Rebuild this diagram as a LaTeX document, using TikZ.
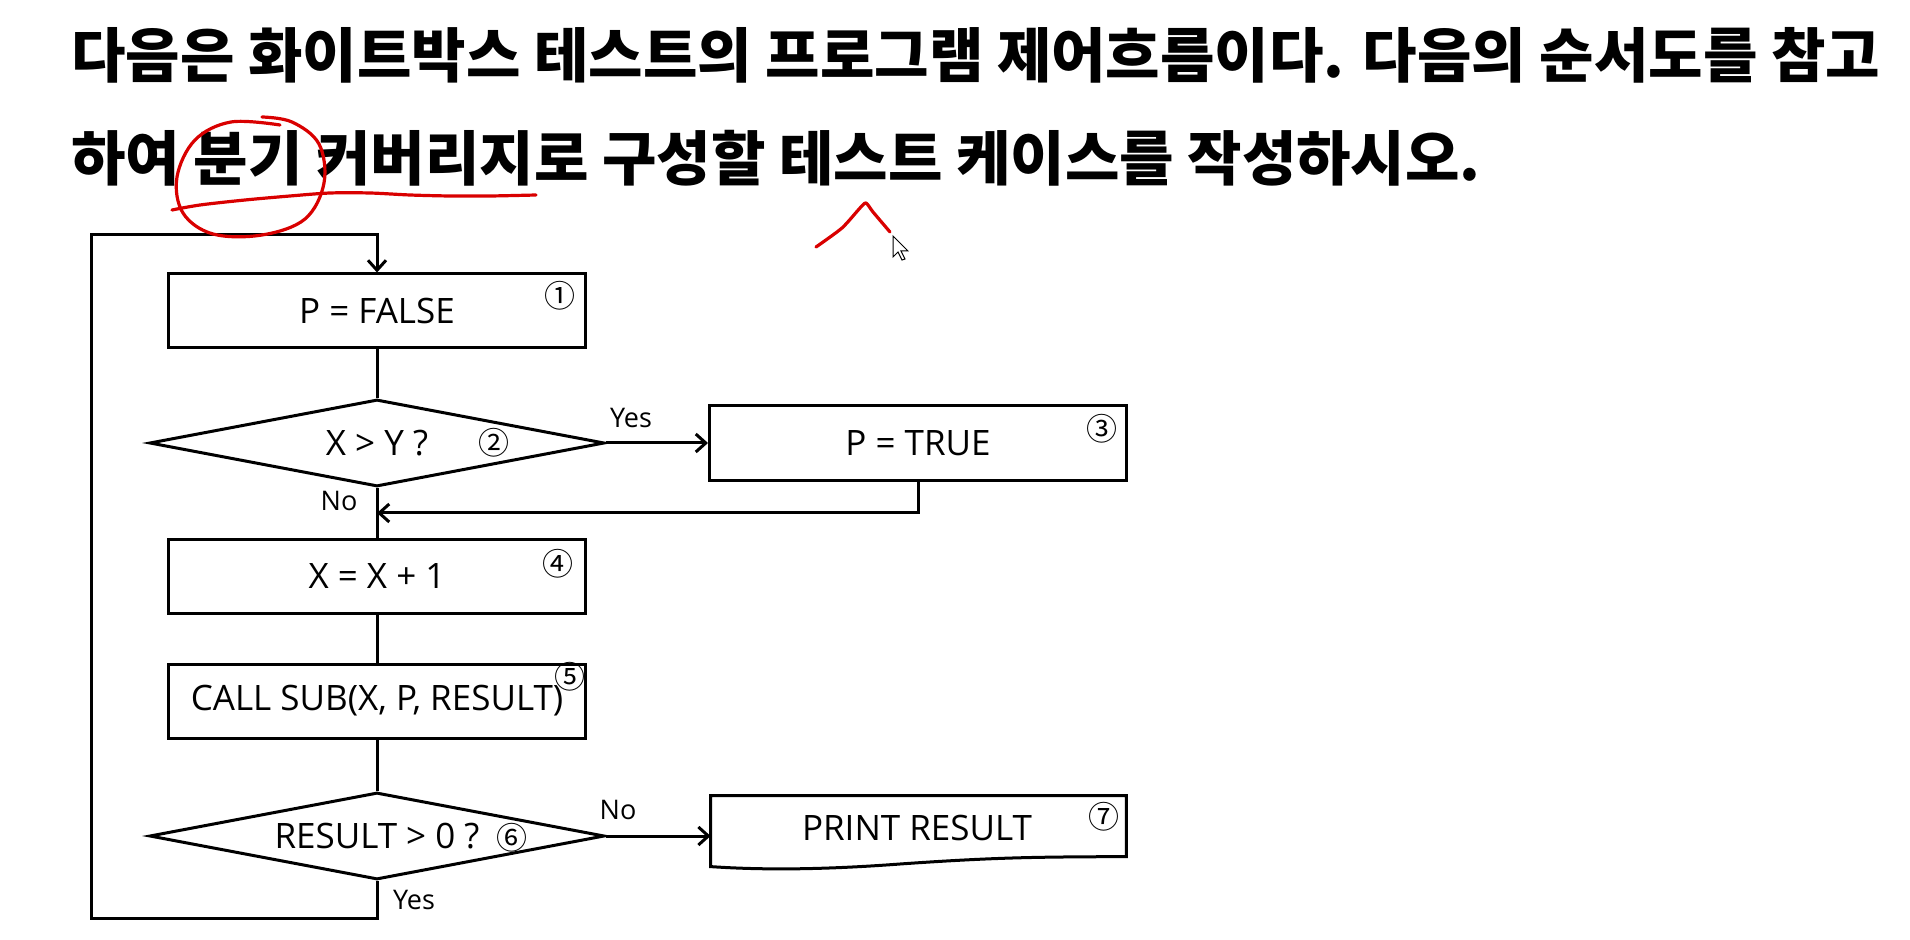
\documentclass[tikz,border=0pt]{standalone}
\usepackage{fontspec}
\usepackage{tikz}
\setmainfont{Open Sans}
\newfontfamily\krfont{Noto Sans CJK KR}
\usetikzlibrary{arrows.meta,positioning,shapes.geometric,calc}

\begin{document}
\begin{tikzpicture}[
    x=0.5pt, y=-0.5pt,
    title/.style={anchor=west, inner sep=0pt, font=\krfont\bfseries\fontsize{29.6}{34}\selectfont},
    procbox/.style={rectangle, draw, line width=1.5pt, minimum width=208.5pt, minimum height=37pt, inner sep=0pt, font=\fontsize{17.5}{20}\selectfont},
    decide/.style={diamond, draw, line width=1.5pt, aspect=5.2, minimum width=227.5pt, minimum height=43.5pt, inner sep=0pt, font=\fontsize{17.5}{20}\selectfont},
    num/.style={inner sep=0pt, font=\krfont\fontsize{15.5}{16}\selectfont},
    lbl/.style={inner sep=0pt, font=\fontsize{13.5}{15}\selectfont},
    flow/.style={line width=1.5pt},
    pen/.style={draw=red!85!black, line width=1.6pt, line cap=round, line join=round}
]
\useasboundingbox (0,0) rectangle (1910,940);
% question
\node[title] (line1) at (71,55) {다음은 화이트박스 테스트의 프로그램 제어흐름이다. 다음의 순서도를 참고};
\node[title] (line2) at (71,158) {하여 분기 커버리지로 구성할 테스트 케이스를 작성하시오.};
% flowchart
\node[procbox] (pfalse) at (377,311) {P = FALSE};
\node[decide] (cmp) at (377,443) {X > Y ?};
\node[procbox, minimum height=37.5pt] (ptrue) at (918,443) {P = TRUE};
\node[procbox] (inc) at (377,576) {X = X + 1};
\node[procbox] (call) at (377,701) {CALL SUB(X, P, RESULT)};
\node[decide] (res) at (377,836) {RESULT > 0 ?};
\node[inner sep=0pt, minimum width=207.5pt, minimum height=35pt] (print) at (918.5,831) {};
\node[inner sep=0pt, font=\fontsize{17.5}{20}\selectfont] (printtxt) at (917,828) {PRINT RESULT};
\draw[flow] (print.north west) -- (print.north east) -- ($(print.north east)+(0,61)$)
    .. controls (1040,857) and (1000,857) .. (900,864)
    .. controls (820,870) and (760,870) .. ($(print.north west)+(0,71)$) -- cycle;
% numbers
\node[num] (n1) at (560,296) {①};
\node[num] (n2) at (494,443) {②};
\node[num] (n3) at (1102,429) {③};
\node[num] (n4) at (558,564) {④};
\node[num] (n5) at (570,677) {⑤};
\node[num] (n6) at (512,838) {⑥};
\node[num] (n7) at (1104,817) {⑦};
% labels
\node[lbl] (yes1) at (631,418) {Yes};
\node[lbl] (no1) at (339,501) {No};
\node[lbl] (no2) at (618,810) {No};
\node[lbl] (yes2) at (414,900) {Yes};
% connectors
\coordinate (lt) at (91,235);
\coordinate (lb) at (91,918);
\coordinate (merge) at (377,513);
\draw[flow] (pfalse) -- (cmp);
\draw[flow, -{Straight Barb[length=5pt,width=9pt]}] (cmp) -- (ptrue);
\draw[flow] (cmp) -- (inc);
\draw[flow, -{Straight Barb[length=5pt,width=9pt]}] (ptrue.south) |- (merge);
\draw[flow] (inc) -- (call);
\draw[flow] (call) -- (res);
\draw[flow, -{Straight Barb[length=5pt,width=9pt]}] (res.east) -- (res.east -| print.west);
\draw[flow, -{Straight Barb[length=5pt,width=9pt]}] (res.south) |- (lb) -- (lt) -| (pfalse.north);
% red pen marks
\draw[pen] plot[smooth, tension=0.6] coordinates {(280,125) (231,122) (195,140) (177,177) (183,213) (213,234) (262,235) (305,219) (324,183) (319,144) (292,122) (262,117)};
\draw[pen] plot[smooth, tension=0.5] coordinates {(172,210) (200,205) (245,200) (290,196) (330,193) (370,193) (410,195) (450,196) (490,196) (536,195)};
\draw[pen] plot[smooth, tension=0.4] coordinates {(816,247) (842,228) (860,208) (866,203) (873,212) (890,232)};
% cursor
\draw[fill=white, line width=0.5pt] (893,236) -- (893,257) -- (898,252) -- (902,260) -- (905,259) -- (901,251) -- (908,251) -- cycle;
\end{tikzpicture}
\end{document}
